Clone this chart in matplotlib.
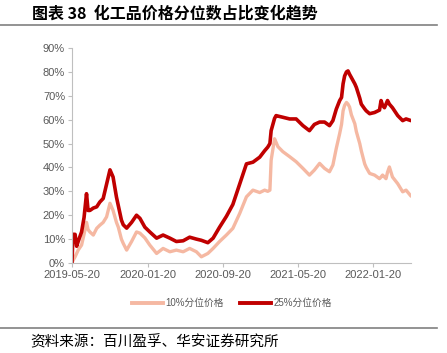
import matplotlib
matplotlib.use("Agg")
import matplotlib.pyplot as plt
import pandas as pd
from matplotlib.lines import Line2D

plt.rcParams['font.family'] = ['Liberation Sans', 'Noto Sans CJK SC', 'DejaVu Sans']

dates = ["2019-05-20", "2019-05-23", "2019-05-30", "2019-06-04", "2019-06-09", "2019-06-20",
         "2019-06-28", "2019-07-06", "2019-07-11", "2019-07-17", "2019-07-28", "2019-08-08",
         "2019-08-18", "2019-08-29", "2019-09-09", "2019-09-20", "2019-09-30", "2019-10-11",
         "2019-10-17", "2019-10-27", "2019-11-02", "2019-11-13", "2019-11-29", "2019-12-15",
         "2019-12-26", "2020-01-11", "2020-01-27", "2020-02-18", "2020-03-10", "2020-04-01",
         "2020-04-22", "2020-05-14", "2020-06-04", "2020-06-26", "2020-07-12", "2020-08-02",
         "2020-08-19", "2020-09-09", "2020-10-01", "2020-10-22", "2020-11-13", "2020-12-05",
         "2020-12-26", "2021-01-17", "2021-02-02", "2021-02-12", "2021-02-19", "2021-02-23",
         "2021-03-06", "2021-03-11", "2021-03-17", "2021-04-02", "2021-04-24", "2021-05-15",
         "2021-06-06", "2021-06-27", "2021-07-13", "2021-07-30", "2021-08-15", "2021-08-31",
         "2021-09-11", "2021-09-22", "2021-10-03", "2021-10-09", "2021-10-14", "2021-10-19",
         "2021-10-25", "2021-10-30", "2021-11-04", "2021-11-10", "2021-11-21", "2021-11-26",
         "2021-12-07", "2021-12-12", "2021-12-23", "2021-12-28", "2022-01-08", "2022-01-24",
         "2022-02-09", "2022-02-14", "2022-02-19", "2022-02-25", "2022-03-02", "2022-03-07",
         "2022-03-13", "2022-03-23", "2022-04-09", "2022-04-25", "2022-05-06", "2022-05-22"]

p25 = [0, 12, 12, 7, 9, 13,
       19, 29, 22, 22, 23, 23.5,
       25.5, 27, 33, 39, 36, 27.6,
       24, 18, 16, 14.6, 17, 20,
       18.7, 15, 13, 10.4, 11.7, 10.4,
       9, 9.3, 10.8, 10, 9.5, 8.5,
       10.4, 15, 19.5, 24.5, 33, 41.5,
       42.2, 44.3, 47, 48.5, 50, 55.4,
       60.5, 61.7, 61.5, 61, 60.3, 60.3,
       57.5, 55.4, 58, 59, 59, 57.5,
       59.6, 64.4, 68, 69.3, 75, 78.3,
       80, 80.4, 79, 77.6, 75, 73.5,
       69, 66.5, 64.5, 63.7, 62.5, 63,
       64, 68, 66, 65, 66.5, 68,
       66.5, 65, 61.7, 59.6, 60.3, 59.6]

p10 = [0, 1, 2.6, 4, 5.4, 7.5,
       12, 17, 14, 13, 11.7, 14.5,
       15.8, 17, 19.3, 25, 22, 17,
       15, 10, 8.2, 5.4, 9, 13,
       12.5, 10.5, 7.5, 4, 6.1, 4.7,
       5.4, 4.7, 6.1, 4.7, 2.6, 4,
       6.1, 9, 11.7, 14.5, 20.7, 27.7,
       30.5, 29.5, 30.5, 30, 30.5, 43,
       52, 50.5, 48.7, 46.6, 44.5, 42.4,
       39.6, 36.8, 38.9, 41.7, 39.6, 38.2,
       41, 48, 54.2, 58, 63.7, 66,
       67.2, 66.5, 65.3, 62, 58.3, 55,
       50, 47, 41.5, 40, 37.5, 36.8,
       35.3, 36, 36.8, 36, 35.3, 38,
       40.2, 36, 33.2, 29.8, 30.5, 28]

xticks = ["2019-05-20", "2020-01-20", "2020-09-20", "2021-05-20", "2022-01-20"]
yticks = [0, 10, 20, 30, 40, 50, 60, 70, 80, 90]

title = "图表 38  化工品价格分位数占比变化趋势"
source = "资料来源：百川盈孚、华安证券研究所"
labels = ["10%分位价格", "25%分位价格"]

light = "#F5B8A2"
dark = "#C00000"
gray = "#BFBFBF"
tcol = "#595959"

W, H = 447, 353
fig = plt.figure(figsize=(W / 100, H / 100), dpi=100)
ax = fig.add_axes([72 / W, 1 - 263 / H, (411 - 72) / W, (263 - 48) / H])

d = pd.to_datetime(dates)
ax.plot(d, p10, color=light, lw=2.4, solid_joinstyle='round', solid_capstyle='round')
ax.plot(d, p25, color=dark, lw=2.6, solid_joinstyle='round', solid_capstyle='round')

ax.set_ylim(0, 90)
ax.set_yticks(yticks)
ax.set_yticklabels([f"{v}%" for v in yticks])
ax.set_xlim(pd.Timestamp("2019-05-20"), pd.Timestamp("2022-05-22"))
ax.set_xticks(pd.to_datetime(xticks))
ax.set_xticklabels(xticks)

for s in ["top", "right"]:
    ax.spines[s].set_visible(False)
for s in ["left", "bottom"]:
    ax.spines[s].set_color(gray)
    ax.spines[s].set_linewidth(0.8)
ax.tick_params(axis='both', colors=gray, length=3, width=0.8, labelsize=8, labelcolor=tcol, pad=2)

# legend
handles = [Line2D([], [], color=light, lw=2.8), Line2D([], [], color=dark, lw=2.8)]
fig.legend(handles, labels, loc='center', bbox_to_anchor=(232 / W, 1 - 303 / H), ncol=2,
           frameon=False, labelcolor=tcol, handlelength=3.2, columnspacing=1.6,
           handletextpad=0.3, prop={'family': ['Liberation Sans', 'Noto Sans CJK SC'], 'size': 7})

# title & source
fig.text(32 / W, 1 - 14 / H, title, fontsize=11.5, fontweight='bold', color='black',
         va='center', ha='left', family=['Noto Sans CJK SC', 'DejaVu Sans'])
fig.add_artist(Line2D([0, 437 / W], [1 - 25 / H, 1 - 25 / H], color='#808080', lw=1.2))
fig.add_artist(Line2D([0, 437 / W], [1 - 328 / H, 1 - 328 / H], color='#808080', lw=1.2))
fig.text(30 / W, 1 - 342 / H, source, fontsize=10.5, color='black', va='center', ha='left',
         family=['Noto Sans CJK SC', 'DejaVu Sans'])

fig.savefig("out.png", dpi=100)
